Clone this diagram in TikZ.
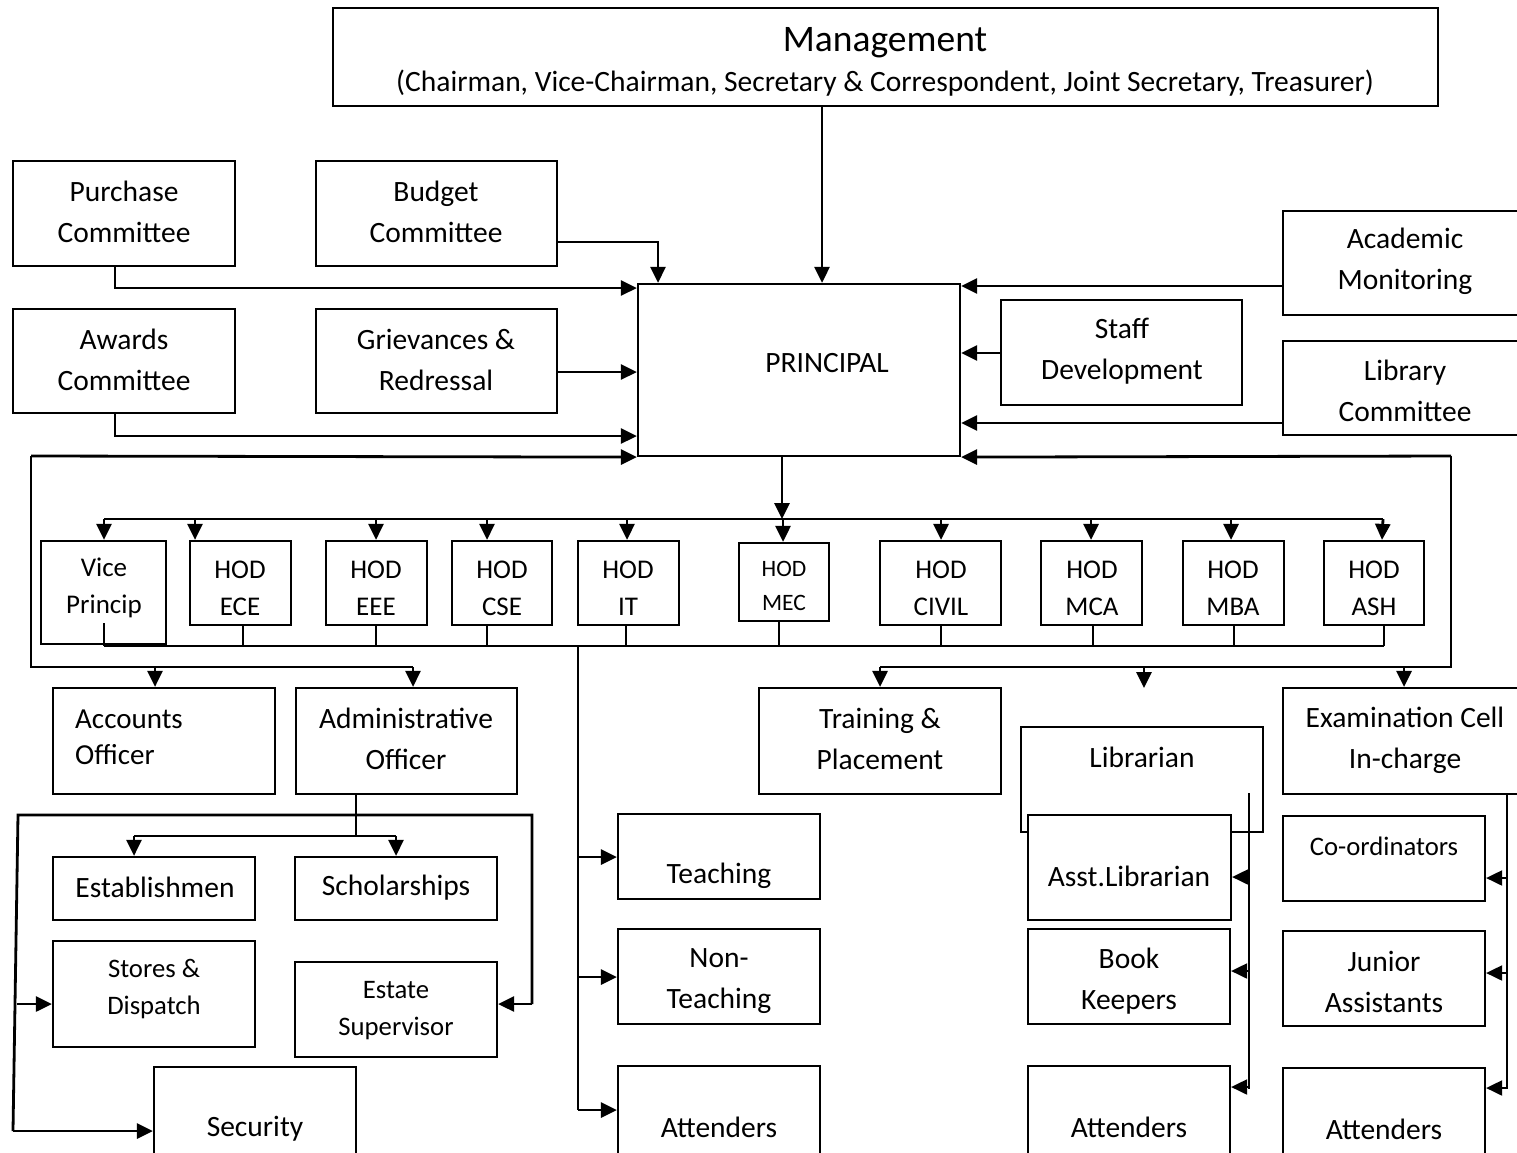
\documentclass[tikz,border=0pt]{standalone}
\usepackage{fontspec}
\setmainfont{Carlito}
\usetikzlibrary{arrows.meta,fit}
\newcommand{\mkbox}[5]{\node[box, fit={(#2,#3) (#4,#5)}] (#1) {};}
\begin{document}
\begin{tikzpicture}[x=1pt,y=-1pt,
  box/.style={draw, line width=2.2pt, fill=white, inner sep=0pt},
  txt/.style={align=center, inner sep=0pt, font=\fontsize{29.5}{41}\selectfont},
  hodt/.style={align=center, inner sep=0pt, font=\fontsize{27}{37}\selectfont},
  smt/.style={align=center, inner sep=0pt, font=\fontsize{26.7}{37}\selectfont},
  con/.style={line width=2.8pt},
  thn/.style={line width=2pt},
  arr/.style={con, -{Triangle[length=16pt,width=15pt]}},
  tarr/.style={thn, -{Triangle[length=16pt,width=15pt]}}]
\useasboundingbox (0,0) rectangle (1517,1152);
\clip (0,0) rectangle (1517,1152);
\fill[white] (0,0) rectangle (1517,1152);
% boxes
\mkbox{mgmt}{333}{8}{1438}{106}
\mkbox{purch}{13}{161}{235}{266}
\mkbox{budget}{316}{161}{557}{266}
\mkbox{acad}{1283}{211}{1530}{315}
\mkbox{princ}{638}{284}{960}{456}
\mkbox{staff}{1001}{300}{1242}{405}
\mkbox{awards}{13}{309}{235}{413}
\mkbox{griev}{316}{309}{557}{413}
\mkbox{libc}{1283}{341}{1530}{435}
\mkbox{vp}{41}{541}{166}{644}
\mkbox{ece}{190}{541}{291}{625}
\mkbox{eee}{326}{541}{427}{625}
\mkbox{cse}{452}{541}{552}{625}
\mkbox{it}{578}{541}{679}{625}
\mkbox{mec}{739}{543}{829}{621}
\mkbox{civil}{880}{541}{1001}{625}
\mkbox{mca}{1041}{541}{1142}{625}
\mkbox{mba}{1183}{541}{1284}{625}
\mkbox{ash}{1324}{541}{1424}{625}
\mkbox{acc}{53}{688}{275}{794}
\mkbox{adm}{296}{688}{517}{794}
\mkbox{trp}{759}{688}{1001}{794}
\mkbox{libr}{1021}{727}{1263}{832}
\mkbox{exam}{1283}{688}{1530}{794}
\mkbox{estab}{53}{857}{255}{920}
\mkbox{schol}{295}{857}{497}{920}
\mkbox{store}{53}{941}{255}{1047}
\mkbox{estate}{295}{962}{497}{1057}
\mkbox{secu}{154}{1067}{356}{1170}
\mkbox{teach}{618}{814}{820}{899}
\mkbox{nont}{618}{929}{820}{1024}
\mkbox{attA}{618}{1066}{820}{1170}
\mkbox{asst}{1028}{815}{1231}{920}
\mkbox{book}{1028}{929}{1230}{1024}
\mkbox{attB}{1028}{1066}{1230}{1170}
\mkbox{coord}{1283}{816}{1485}{901}
\mkbox{junior}{1283}{931}{1485}{1026}
\mkbox{attC}{1283}{1068}{1485}{1170}
% texts
\node[txt, font=\fontsize{37.5}{40}\selectfont] (tm1) at (885,43) {Management};
\node[txt, font=\fontsize{29.5}{32}\selectfont] (tm2) at (885,83) {(Chairman, Vice-Chairman, Secretary \& Correspondent, Joint Secretary, Treasurer)};
\node[txt] (tpurch) at (124,212) {Purchase\\Committee};
\node[txt] (tbudget) at (436,212) {Budget\\Committee};
\node[txt] (tawards) at (124,360) {Awards\\Committee};
\node[txt] (tgriev) at (436,360) {Grievances \&\\Redressal};
\node[txt] (tacad) at (1405,261) {Academic\\Monitoring};
\node[txt] (tstaff) at (1122,351) {Staff\\Development};
\node[txt] (tlibc) at (1405,391) {Library\\Committee};
\node[txt, font=\fontsize{29.5}{32}\selectfont] (tprinc) at (827,363) {PRINCIPAL};
\node[hodt] (tvp) at (104,588) {Vice\\Princip};
\node[hodt] (tece) at (240,588) {HOD\\ECE};
\node[hodt] (teee) at (376,588) {HOD\\EEE};
\node[hodt] (tcse) at (502,588) {HOD\\CSE};
\node[hodt] (tit) at (628,588) {HOD\\IT};
\node[align=center, inner sep=0pt, font=\fontsize{23.5}{34}\selectfont] (tmec) at (784,586) {HOD\\MEC};
\node[hodt] (tcivil) at (941,588) {HOD\\CIVIL};
\node[hodt] (tmca) at (1092,588) {HOD\\MCA};
\node[hodt] (tmba) at (1233,588) {HOD\\MBA};
\node[hodt] (tash) at (1374,588) {HOD\\ASH};
\node[txt, align=left, anchor=west, font=\fontsize{29}{36}\selectfont] (tacc) at (75,737) {Accounts\\Officer};
\node[txt] (tadm) at (406,739) {Administrative\\Officer};
\node[txt] (ttrp) at (880,739) {Training \&\\Placement};
\node[txt] (tlibr) at (1142,757) {Librarian};
\node[txt] (texam) at (1405,740) {Examination Cell\\In-charge};
\node[txt] (testab) at (155,887) {Establishmen};
\node[txt] (tschol) at (396,888) {Scholarships};
\node[smt] (tstore) at (154,989) {Stores \&\\Dispatch};
\node[smt] (testate) at (396,1011) {Estate\\Supervisor};
\node[txt] (tsecu) at (255,1129) {Security};
\node[txt] (tteach) at (719,876) {Teaching};
\node[txt] (tnont) at (719,981) {Non-\\Teaching};
\node[txt] (tattA) at (719,1127) {Attenders};
\node[txt] (tasst) at (1129,876) {Asst.Librarian};
\node[txt] (tbook) at (1129,981) {Book\\Keepers};
\node[txt] (tattB) at (1129,1127) {Attenders};
\node[smt] (tcoord) at (1384,846) {Co-ordinators};
\node[txt] (tjunior) at (1384,982) {Junior\\Assistants};
\node[txt] (tattC) at (1384,1129) {Attenders};
% connectors to principal
\draw[arr] (mgmt.south -| 822,0) -- (princ.north -| 822,0);
\draw[arr] (budget.east |- 0,242) -| (princ.north -| 658,0);
\draw[arr] (purch.south -| 115,0) |- (princ.west |- 0,288);
\draw[arr] (griev.east |- 0,372) -- (princ.west |- 0,372);
\draw[arr] (awards.south -| 115,0) |- (princ.west |- 0,436);
\draw[arr] (acad.west |- 0,286) -- (princ.east |- 0,286);
\draw[arr] (staff.west |- 0,353) -- (princ.east |- 0,353);
\draw[arr] (libc.west |- 0,423) -- (princ.east |- 0,423);
% left loop
\coordinate (L1) at (31,456);
\coordinate (L2) at (31,667);
\coordinate (L3) at (413,667);
\draw[con] (L1) -- (L2) -- (L3);
\draw[arr] (L1) -- (princ.south west);
\draw[arr] (155,667) -- (acc.north -| 155,0);
\draw[arr] (L3) -- (adm.north -| 413,0);
% right loop
\coordinate (R1) at (1451,456);
\coordinate (R2) at (1451,667);
\coordinate (R3) at (880,667);
\coordinate (R4) at (1144,688);
\draw[con] (R1) -- (R2) -- (R3);
\draw[arr] (R1) -- (princ.south east);
\draw[arr] (R3) -- (trp.north -| 880,0);
\draw[arr] (1144,667) -- (R4);
\draw[arr] (1404,667) -- (exam.north -| 1404,0);
% principal to HODs
\coordinate (B1) at (104,519);
\coordinate (B2) at (1383,519);
\draw[arr] (princ.south -| 782,0) -- (782,519);
\draw[con] (B1) -- (B2);
\draw[arr] (B1) -- (vp.north -| 104,0);
\draw[arr] (195,519) -- (ece.north -| 195,0);
\draw[arr] (376,519) -- (eee.north -| 376,0);
\draw[arr] (487,519) -- (cse.north -| 487,0);
\draw[arr] (627,519) -- (it.north -| 627,0);
\draw[arr] (783,519) -- (mec.north -| 783,0);
\draw[arr] (941,519) -- (civil.north -| 941,0);
\draw[arr] (1091,519) -- (mca.north -| 1091,0);
\draw[arr] (1231,519) -- (mba.north -| 1231,0);
\draw[arr] (B2) -- (ash.north -| 1382,0);
% bottom bus
\coordinate (D1) at (104,646);
\coordinate (D2) at (1384,646);
\draw[line width=2.4pt] (D1) -- (D2);
\draw[thn] (104,623) -- (D1);
\draw[thn] (ece.south -| 243,0) -- (243,646);
\draw[thn] (eee.south -| 376,0) -- (376,646);
\draw[thn] (cse.south -| 487,0) -- (487,646);
\draw[thn] (it.south -| 626,0) -- (626,646);
\draw[thn] (mec.south -| 779,0) -- (779,646);
\draw[thn] (civil.south -| 941,0) -- (941,646);
\draw[thn] (mca.south -| 1093,0) -- (1093,646);
\draw[thn] (mba.south -| 1234,0) -- (1234,646);
\draw[thn] (ash.south -| 1384,0) -- (D2);
% staff column
\coordinate (S1) at (578,646);
\coordinate (S2) at (578,1110);
\draw[con] (S1) -- (S2);
\draw[arr] (578,857) -- (teach.west |- 0,857);
\draw[arr] (578,977) -- (nont.west |- 0,977);
\draw[arr] (S2) -- (attA.west |- 0,1110);
% administrative officer
\coordinate (A1) at (356,836);
\coordinate (A2) at (18,815);
\coordinate (A3) at (532,815);
\coordinate (A4) at (532,1004);
\coordinate (A5) at (13,1131);
\draw[con] (adm.south -| 356,0) -- (A1);
\draw[con] (134,836) -- (396,836);
\draw[arr] (134,836) -- (estab.north -| 134,0);
\draw[arr] (396,836) -- (schol.north -| 396,0);
\draw[con] (A5) -- (A2) -- (A3) -- (A4);
\draw[arr] (A4) -- (estate.east |- 0,1004);
\draw[arr] (16.5,1004) -- (store.west |- 0,1004);
\draw[arr] (A5) -- (secu.west |- 0,1131);
% librarian
\coordinate (LB1) at (1249,793);
\coordinate (LB2) at (1249,1089);
\draw[thn] (LB1) -- (LB2);
\draw[tarr] (1249,877) -- (asst.east |- 0,877);
\draw[tarr] (1249,971) -- (book.east |- 0,971);
\draw[tarr] (1249,1087) -- (attB.east |- 0,1087);
% exam cell
\coordinate (E1) at (1507,794);
\coordinate (E2) at (1507,1089);
\draw[thn] (E1) -- (E2);
\draw[tarr] (1507,878) -- (coord.east |- 0,878);
\draw[tarr] (1507,973) -- (junior.east |- 0,973);
\draw[tarr] (1507,1088) -- (attC.east |- 0,1088);
\end{tikzpicture}
\end{document}
